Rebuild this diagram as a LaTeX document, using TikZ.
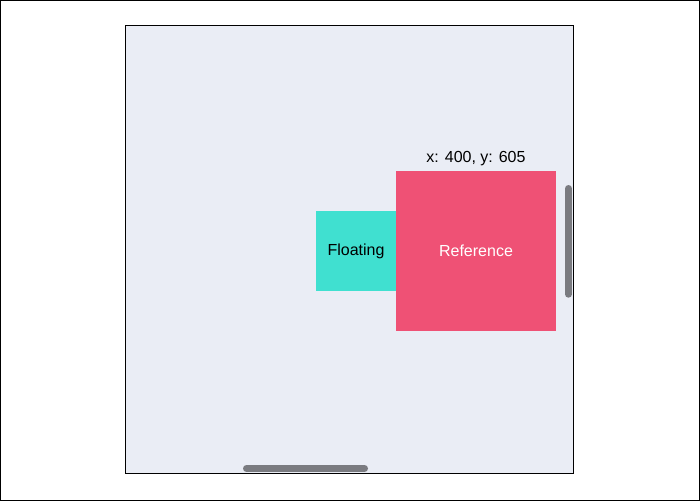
\documentclass[tikz,border=0pt]{standalone}
\usepackage{fontspec}
\setmainfont{Liberation Sans}
\usetikzlibrary{positioning}
\definecolor{panelbg}{RGB}{234,237,245}
\definecolor{refred}{RGB}{239,81,117}
\definecolor{floatteal}{RGB}{64,224,208}
\definecolor{thumbgray}{RGB}{122,123,128}

\begin{document}
\begin{tikzpicture}[x=1pt,y=-1pt,
  box/.style={inner sep=0pt,outer sep=0pt,minimum width=#1,minimum height=#1,font=\fontsize{16}{19}\selectfont},
  thumb/.style={line width=7pt,line cap=round,thumbgray}]
  \useasboundingbox (0,0) rectangle (700,501);

  % Frame and panel
  \draw[line width=1pt] (0.5,0.5) rectangle (699.5,500.5);
  \draw[line width=1pt,fill=panelbg] (125.5,25.5) rectangle (573.5,473.5);

  % Boxes
  \node[box=160pt,fill=refred,text=white] (ref) at (476,251) {Reference};
  \node[box=80pt,fill=floatteal,left=0pt of ref] (float) {Floating};
  \node[font=\fontsize{16}{19}\selectfont,inner sep=0pt] (coords) at (476,158.5) {x: 400, y: 605};

  % Scrollbars
  \coordinate (vtop) at (568.5,188.5);
  \coordinate (vbot) at (568.5,294.2);
  \coordinate (hleft) at (246.5,468.5);
  \coordinate (hright) at (364.5,468.5);
  \draw[thumb] (vtop) -- (vbot);
  \draw[thumb] (hleft) -- (hright);

\end{tikzpicture}
\end{document}
